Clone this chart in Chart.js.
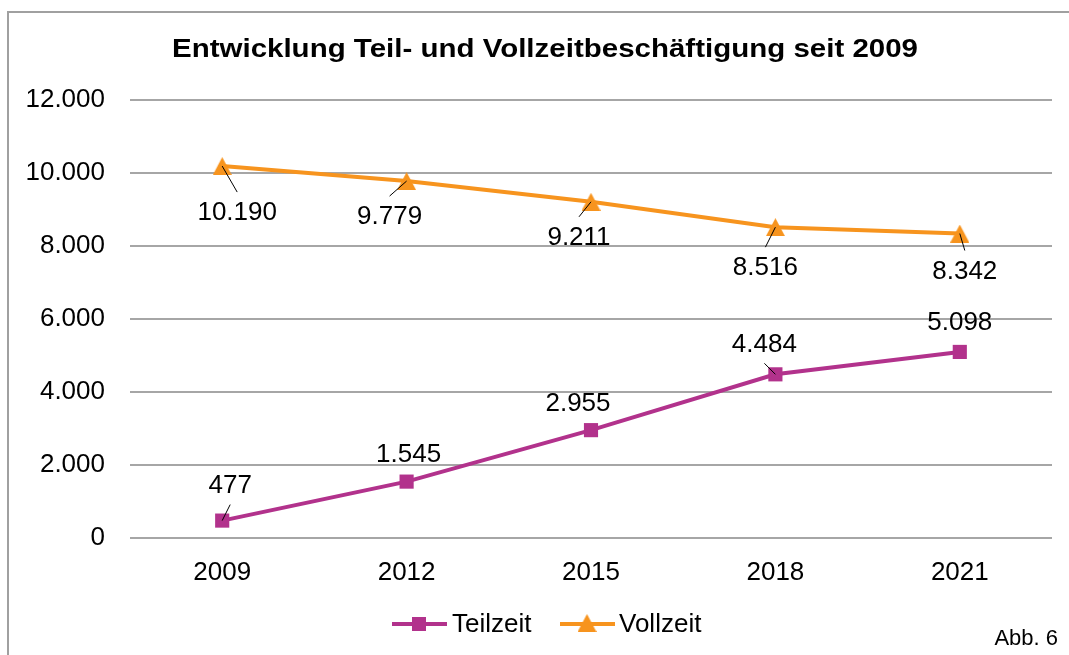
<!DOCTYPE html>
<html>
<head>
<meta charset="utf-8">
<script src="https://cdn.jsdelivr.net/npm/chart.js@4.4.1/dist/chart.umd.min.js"></script>
<style>
  html, body { margin: 0; padding: 0; background: #ffffff; }
  #wrap { position: relative; width: 1069px; height: 655px; }
</style>
</head>
<body>
<div id="wrap"><canvas id="c" width="1069" height="655"></canvas></div>
<script>
// ---- data ----
const categories = ["2009", "2012", "2015", "2018", "2021"];
const teilzeit = [477, 1545, 2955, 4484, 5098];
const vollzeit = [10190, 9779, 9211, 8516, 8342];
const seriesNames = ["Teilzeit", "Vollzeit"];
const yTicks = [0, 2000, 4000, 6000, 8000, 10000, 12000];
const titleText = "Entwicklung Teil- und Vollzeitbeschäftigung seit 2009";
const noteText = "Abb. 6";

// ---- styling ----
const PURPLE = "#B2328C";
const ORANGE = "#F7941E";
const GRID = "#a6a6a6";
const FONT = "'Liberation Sans', Arial, sans-serif";

function fmt(v) {
  const s = Math.round(v).toString();
  return s.replace(/\B(?=(\d{3})+(?!\d))/g, ".");
}

function makeTriangle(w, h, color) {
  const c = document.createElement("canvas");
  c.width = w; c.height = h;
  const x = c.getContext("2d");
  x.fillStyle = color;
  x.beginPath();
  x.moveTo(w / 2, 0);
  x.lineTo(w, h);
  x.lineTo(0, h);
  x.closePath();
  x.fill();
  return c;
}
const triImg = makeTriangle(19, 18, ORANGE);

// label placement relative to each point (layout only)
const labelLayout = [
  [ {dx: 8, dy: -35, leader: true}, {dx: 2, dy: -27}, {dx: -13, dy: -26}, {dx: -11, dy: -30, leader: true}, {dx: 0, dy: -29} ],
  [ {dx: 15, dy: 47, leader: true}, {dx: -17, dy: 36, leader: true}, {dx: -12, dy: 36, leader: true}, {dx: -10, dy: 41, leader: true}, {dx: 5, dy: 38, leader: true} ]
];

function stretchedText(ctx, text, cx, cy, font, targetWidth, align) {
  ctx.save();
  ctx.font = font;
  const w = ctx.measureText(text).width;
  const sx = targetWidth ? targetWidth / w : 1;
  ctx.translate(cx, cy);
  ctx.scale(sx, 1);
  ctx.textAlign = align || "center";
  ctx.textBaseline = "middle";
  ctx.fillText(text, 0, 0);
  ctx.restore();
}

const decorPlugin = {
  id: "decor",
  beforeDraw(chart) {
    const ctx = chart.ctx;
    ctx.save();
    ctx.fillStyle = "#ffffff";
    ctx.fillRect(0, 0, chart.width, chart.height);
    ctx.strokeStyle = "#a0a0a0";
    ctx.lineWidth = 2;
    ctx.beginPath();
    ctx.moveTo(8, chart.height);
    ctx.lineTo(8, 12);
    ctx.lineTo(chart.width, 12);
    ctx.stroke();
    ctx.restore();
  },
  afterDatasetsDraw(chart) {
    const ctx = chart.ctx;
    ctx.save();
    chart.data.datasets.forEach((ds, di) => {
      const meta = chart.getDatasetMeta(di);
      meta.data.forEach((pt, i) => {
        const L = labelLayout[di][i];
        const lx = pt.x + L.dx, ly = pt.y + L.dy;
        if (L.leader) {
          const ey = L.dy > 0 ? ly - 21 : ly + 19;
          ctx.strokeStyle = "#000000";
          ctx.lineWidth = 1;
          ctx.beginPath();
          ctx.moveTo(pt.x, pt.y);
          ctx.lineTo(lx, ey);
          ctx.stroke();
        }
        ctx.fillStyle = "#000000";
        ctx.font = "26px " + FONT;
        ctx.textAlign = "center";
        ctx.textBaseline = "middle";
        ctx.fillText(fmt(ds.data[i]), lx, ly);
      });
    });
    ctx.restore();
  },
  afterDraw(chart) {
    const ctx = chart.ctx;
    ctx.save();
    ctx.fillStyle = "#000000";
    // title
    stretchedText(ctx, titleText, 545, 50, "bold 26px " + FONT, 746, "center");
    // legend
    const ly = 624;
    ctx.lineWidth = 4;
    ctx.strokeStyle = PURPLE;
    ctx.beginPath(); ctx.moveTo(392, ly); ctx.lineTo(447, ly); ctx.stroke();
    ctx.fillStyle = PURPLE;
    ctx.fillRect(412, ly - 7, 14, 14);
    ctx.strokeStyle = ORANGE;
    ctx.beginPath(); ctx.moveTo(560, ly); ctx.lineTo(615, ly); ctx.stroke();
    ctx.drawImage(triImg, 587 - 9.5, ly - 10);
    ctx.fillStyle = "#000000";
    ctx.font = "26px " + FONT;
    ctx.textAlign = "left";
    ctx.textBaseline = "middle";
    ctx.fillText(chart.data.datasets[0].label, 452, ly + 1);
    ctx.fillText(chart.data.datasets[1].label, 619, ly + 1);
    // note
    ctx.font = "22px " + FONT;
    ctx.textAlign = "right";
    ctx.fillText(noteText, 1058, 639);
    ctx.restore();
  }
};

new Chart(document.getElementById("c"), {
  type: "line",
  data: {
    labels: categories,
    datasets: [
      {
        label: seriesNames[0],
        data: teilzeit,
        borderColor: PURPLE,
        backgroundColor: PURPLE,
        borderWidth: 4,
        pointStyle: "rect",
        pointRadius: 10,
        pointHoverRadius: 10,
        pointBorderWidth: 0,
        tension: 0
      },
      {
        label: seriesNames[1],
        data: vollzeit,
        borderColor: ORANGE,
        backgroundColor: ORANGE,
        borderWidth: 4,
        pointStyle: triImg,
        pointRadius: 10,
        pointHoverRadius: 10,
        pointBorderWidth: 0,
        tension: 0
      }
    ]
  },
  options: {
    responsive: false,
    animation: false,
    events: [],
    layout: { padding: { left: 0, right: 17, top: 100, bottom: 0 } },
    plugins: {
      legend: { display: false },
      title: { display: false },
      tooltip: { enabled: false }
    },
    scales: {
      x: {
        offset: true,
        grid: { display: false, drawTicks: false },
        border: { display: false },
        ticks: {
          color: "#000000",
          font: { family: FONT, size: 26 },
          padding: 19,
          maxRotation: 0
        },
        afterFit(scale) { scale.height = 117; }
      },
      y: {
        min: 0,
        max: 12000,
        afterBuildTicks(scale) { scale.ticks = yTicks.map(v => ({ value: v })); },
        grid: { color: GRID, lineWidth: 2, drawTicks: false },
        border: { display: false },
        ticks: {
          color: "#000000",
          font: { family: FONT, size: 26 },
          padding: 25,
          callback: (v) => fmt(v)
        },
        afterFit(scale) { scale.width = 130; }
      }
    }
  },
  plugins: [decorPlugin]
});
</script>
</body>
</html>
